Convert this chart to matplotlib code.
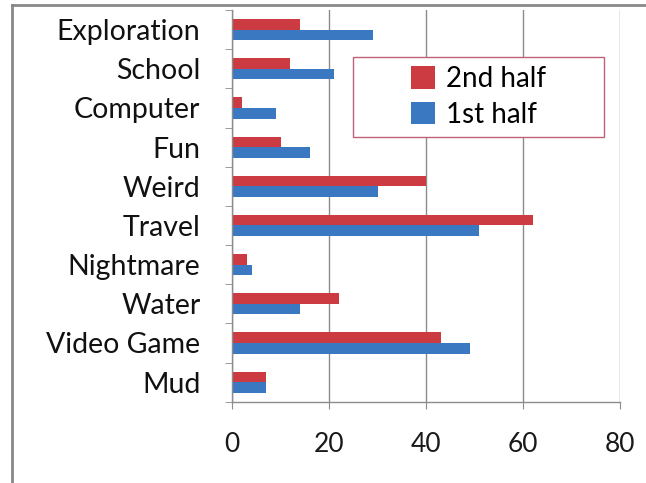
import matplotlib.pyplot as plt
import numpy as np
from matplotlib.lines import Line2D
from matplotlib.patches import Rectangle

categories = ["Exploration", "School", "Computer", "Fun", "Weird",
              "Travel", "Nightmare", "Water", "Video Game", "Mud"]
second_half = [14, 12, 2, 10, 40, 62, 3, 22, 43, 7]
first_half = [29, 21, 9, 16, 30, 51, 4, 14, 49, 7]
x_ticks = [0, 20, 40, 60, 80]

red = "#cc3a42"
blue = "#3b78c2"
grid_col = "#8c8c8c"

plt.rcParams["font.family"] = ["Lato", "DejaVu Sans"]

fig = plt.figure(figsize=(6.46, 4.83), dpi=100)
ax = fig.add_axes([0.3596, 0.1683, 0.6002, 0.811])

# Mud at the bottom, Exploration at the top
n = len(categories)
pos = np.arange(n)[::-1]
h = 0.27
ax.barh(pos + h / 2, second_half, height=h, color=red, label="2nd half")
ax.barh(pos - h / 2, first_half, height=h, color=blue, label="1st half")

ax.set_ylim(-0.5, n - 0.5)
ax.set_xlim(0, 80)
ax.set_xticks(x_ticks)
ax.set_xticklabels([str(t) for t in x_ticks], fontsize=19, color="#1a1a1a")
ax.set_yticks(pos)
ax.set_yticklabels(categories, fontsize=20.5, color="#111111")
ax.set_yticks(np.arange(n + 1) - 0.5, minor=True)
ax.tick_params(axis="y", which="major", length=0, pad=23)
ax.tick_params(axis="y", which="minor", length=5, color=grid_col, direction="out")
ax.tick_params(axis="x", length=5, color=grid_col, pad=17)

ax.grid(True, axis="x", color=grid_col, linewidth=1)
ax.set_axisbelow(True)
for s in ["top", "right"]:
    ax.spines[s].set_visible(False)
for s in ["left", "bottom"]:
    ax.spines[s].set_color(grid_col)
    ax.spines[s].set_linewidth(1)

# legend box drawn separately so it can be sized like the original
box = (0.311, 0.676, 0.648, 0.204)
ax.add_patch(Rectangle(box[:2], box[2], box[3], transform=ax.transAxes,
                       facecolor="white", edgecolor="#c0607a", linewidth=1,
                       zorder=5, clip_on=False))
handles, labels = ax.get_legend_handles_labels()
leg = ax.legend(handles, labels, loc="center", bbox_to_anchor=box,
                fontsize=20, frameon=False,
                handlelength=0.85, handleheight=0.85, handletextpad=0.4,
                borderpad=0.2, labelspacing=0.35)
leg.set_zorder(6)

# outer chart border (left and top edges visible)
fig.add_artist(Line2D([12 / 646, 12 / 646], [0, 1 - 5 / 483],
                      transform=fig.transFigure, color="#888888", linewidth=2))
fig.add_artist(Line2D([12 / 646, 1], [1 - 5 / 483, 1 - 5 / 483],
                      transform=fig.transFigure, color="#888888", linewidth=2))

fig.savefig("out.png", dpi=100)
